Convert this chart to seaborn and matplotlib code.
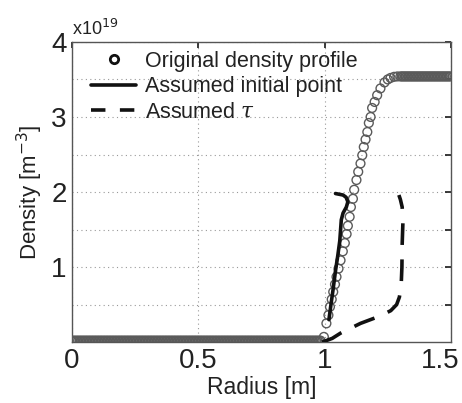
import numpy as np
import pandas as pd
import matplotlib
matplotlib.use("Agg")
import matplotlib.pyplot as plt
import matplotlib.transforms as mtransforms
import seaborn as sns
from matplotlib.lines import Line2D

# ===============================
# Data (density in units of 1e19 m^-3)
# ===============================
FLAT_LEVEL = 0.02
PLATEAU_LEVEL = 3.54

# dense radial grid in the flat core and the flat top
flat_radius = np.round(np.arange(0.0, 0.99, 0.006), 3)
plateau_radius = np.round(np.arange(1.30, 1.501, 0.006), 3)

edge_radius = [0.997, 1.007, 1.015, 1.021, 1.028, 1.034, 1.041, 1.047, 1.055,
               1.063, 1.072, 1.080, 1.087, 1.092, 1.099, 1.104, 1.112, 1.117,
               1.126, 1.133, 1.142, 1.149, 1.155, 1.162, 1.169, 1.175, 1.182,
               1.188, 1.198, 1.208, 1.221, 1.237, 1.250, 1.261, 1.275, 1.288]
edge_density = [0.07, 0.25, 0.36, 0.47, 0.57, 0.67, 0.77, 0.87, 0.98,
                1.09, 1.21, 1.32, 1.44, 1.55, 1.67, 1.80, 1.91, 2.03,
                2.16, 2.27, 2.38, 2.49, 2.60, 2.70, 2.80, 2.92, 3.00,
                3.12, 3.20, 3.29, 3.38, 3.46, 3.50, 3.52, 3.535, 3.54]

initial_radius = [1.017, 1.025, 1.033, 1.043, 1.052, 1.060, 1.063, 1.066,
                  1.073, 1.086, 1.092, 1.085, 1.073, 1.043]
initial_density = [0.30, 0.50, 0.69, 0.95, 1.15, 1.35, 1.49, 1.63,
                   1.72, 1.80, 1.87, 1.93, 1.96, 1.98]

tau_radius = [0.99, 1.03, 1.063, 1.142, 1.221, 1.262, 1.285, 1.296, 1.303,
              1.306, 1.307, 1.310, 1.307, 1.300, 1.294]
tau_density = [0.0, 0.05, 0.12, 0.25, 0.35, 0.42, 0.50, 0.60, 0.75,
               1.0, 1.3, 1.6, 1.80, 1.90, 1.96]

x_ticks = [0, 0.5, 1, 1.5]
x_tick_labels = ["0", "0.5", "1", "1.5"]
y_ticks = [0.5, 1, 1.5, 2, 2.5, 3, 3.5, 4]
y_tick_labels = ["", "1", "", "2", "", "3", "", "4"]

profile = pd.DataFrame({
    "Radius": np.concatenate([flat_radius, edge_radius, plateau_radius]),
    "Density": np.concatenate([np.full(len(flat_radius), FLAT_LEVEL), edge_density,
                               np.full(len(plateau_radius), PLATEAU_LEVEL)]),
})
initial = pd.DataFrame({"Radius": initial_radius, "Density": initial_density})
tau = pd.DataFrame({"Radius": tau_radius, "Density": tau_density})

# ===============================
# Style
# ===============================
sns.set_theme(style="white")
plt.rcParams['font.family'] = ['Liberation Sans', 'DejaVu Sans']
plt.rcParams['mathtext.fontset'] = 'dejavuserif'

fig = plt.figure(figsize=(4.62, 4.03), dpi=100)
ax = fig.add_axes([0.156, 0.151, 0.820, 0.745])

sns.scatterplot(data=profile, x="Radius", y="Density", ax=ax, marker="o",
                s=40, facecolor="none", edgecolor="#5a5a5a", linewidth=1.0,
                zorder=3)
sns.lineplot(data=initial, x="Radius", y="Density", ax=ax, sort=False,
             estimator=None, color="#111111", lw=2.6, zorder=4)
sns.lineplot(data=tau, x="Radius", y="Density", ax=ax, sort=False,
             estimator=None, color="#111111", lw=2.6, zorder=4)
ax.lines[-1].set_dashes([6, 4])

# ===============================
# Axes
# ===============================
ax.set_xlim(0, 1.5)
ax.set_ylim(0, 4)
ax.set_xticks(x_ticks, x_tick_labels)
ax.set_yticks(y_ticks, y_tick_labels)
ax.tick_params(axis="both", labelsize=20, colors="#222222", direction="in",
               length=4, right=True, top=True, pad=4)
# keep the last x label inside the figure, like the original
last = ax.get_xticklabels()[-1]
last.set_horizontalalignment("right")
last.set_transform(last.get_transform() +
                   mtransforms.ScaledTranslation(6 / 72, 0, fig.dpi_scale_trans))

ax.grid(True, linestyle=(0, (1, 3)), color="#999999", linewidth=0.8)
for s in ax.spines.values():
    s.set_color("#555555")
    s.set_linewidth(1.0)

ax.set_xlabel("Radius [m]", fontsize=16.5, color="#222222", labelpad=2)
ax.set_ylabel("Density [m$^{\\mathsf{-3}}$]", fontsize=16, color="#222222", labelpad=4)
ax.text(0.0, 1.01, "x10$^{\\mathsf{19}}$", transform=ax.transAxes, fontsize=13,
        color="#222222", ha="left", va="bottom")

handles = [
    Line2D([], [], marker="o", ls="none", mfc="none", mec="#111111", mew=2, ms=6),
    Line2D([], [], color="#111111", lw=2.6),
    Line2D([], [], color="#111111", lw=2.6, dashes=[4, 4]),
]
labels = ["Original density profile", "Assumed initial point", "Assumed $\\tau$"]
ax.legend(handles, labels, loc="upper left", bbox_to_anchor=(0.01, 1.02),
          frameon=False, fontsize=15.5,
          handlelength=2.1, handletextpad=0.4, labelspacing=0.2,
          borderaxespad=0.4, borderpad=0.3, labelcolor="#222222")

fig.savefig("out.png", dpi=100)
